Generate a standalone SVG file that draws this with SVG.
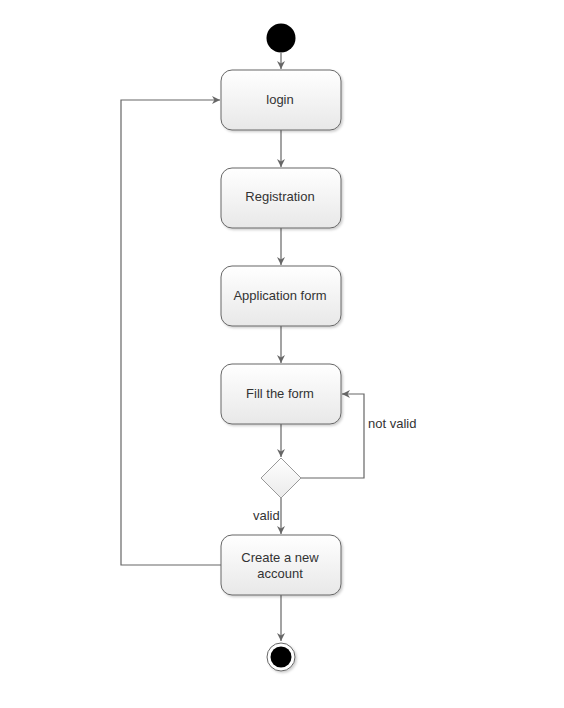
<svg xmlns="http://www.w3.org/2000/svg" width="564" height="708" viewBox="0 0 564 708">
  <style>
    .act { fill: url(#actFill); stroke: #666; stroke-width: 1; filter: url(#shadow); }
    .lbl { font-family: "Liberation Sans", Arial, sans-serif; font-size: 13px; fill: #333; text-anchor: middle; }
    .edge { fill: none; stroke: #666; stroke-width: 1.2; marker-end: url(#arrow); }
    .note { font-family: "Liberation Sans", Arial, sans-serif; font-size: 13px; fill: #333; }
  </style>
  <defs>
    <linearGradient id="actFill" x1="0" y1="0" x2="0" y2="1">
      <stop offset="0" stop-color="#ffffff"/>
      <stop offset="1" stop-color="#e8e8e8"/>
    </linearGradient>
    <linearGradient id="decFill" x1="0" y1="0" x2="0" y2="1">
      <stop offset="0" stop-color="#ffffff"/>
      <stop offset="1" stop-color="#ebebeb"/>
    </linearGradient>
    <filter id="shadow" x="-10%" y="-10%" width="125%" height="130%">
      <feDropShadow dx="1.5" dy="1.5" stdDeviation="1.2" flood-color="#000" flood-opacity="0.2"/>
    </filter>
    <marker id="arrow" viewBox="0 0 10 10" refX="10" refY="5" markerWidth="8" markerHeight="8" markerUnits="userSpaceOnUse" orient="auto">
      <path d="M0,0 L10,5 L0,10 L3,5 Z" fill="#666"/>
    </marker>
  </defs>
  <rect width="564" height="708" fill="#fff"/>

  <g id="connectors">
    <line class="edge" x1="281" y1="53" x2="281" y2="69"/>
    <line class="edge" x1="281" y1="130" x2="281" y2="167"/>
    <line class="edge" x1="281" y1="228" x2="281" y2="265"/>
    <line class="edge" x1="281" y1="326" x2="281" y2="363"/>
    <line class="edge" x1="281" y1="424" x2="281" y2="457"/>
    <polyline class="edge" points="301,478 364,478 364,394 342,394"/>
    <line class="edge" x1="281" y1="498" x2="281" y2="534"/>
    <polyline class="edge" points="221,565 121,565 121,100 220,100"/>
    <line class="edge" x1="281" y1="595" x2="281" y2="641"/>
    <text class="note" x="368" y="428">not valid</text>
    <text class="note" x="253" y="520">valid</text>
  </g>

  <g id="start">
    <circle cx="281" cy="38" r="14.5" fill="#000"/>
  </g>

  <g id="login">
    <rect class="act" x="221" y="70" width="120" height="60" rx="11"/>
    <text class="lbl" x="280" y="104">login</text>
  </g>

  <g id="registration">
    <rect class="act" x="221" y="168" width="120" height="60" rx="11"/>
    <text class="lbl" x="280" y="201">Registration</text>
  </g>

  <g id="application-form">
    <rect class="act" x="221" y="266" width="120" height="60" rx="11"/>
    <text class="lbl" x="280" y="300">Application form</text>
  </g>

  <g id="fill-form">
    <rect class="act" x="221" y="364" width="120" height="60" rx="11"/>
    <text class="lbl" x="280" y="398">Fill the form</text>
  </g>

  <g id="decision">
    <polygon points="281,458 301,478 281,498 261,478" fill="url(#decFill)" stroke="#999" stroke-width="1"/>
  </g>

  <g id="create-account">
    <rect class="act" x="221" y="535" width="120" height="60" rx="11"/>
    <text class="lbl" x="280" y="562">Create a new</text>
    <text class="lbl" x="280" y="578">account</text>
  </g>

  <g id="end">
    <circle cx="281" cy="657" r="14" fill="#fff" stroke="#666" stroke-width="1" filter="url(#shadow)"/>
    <circle cx="281" cy="657" r="10.5" fill="#000"/>
  </g>
</svg>
